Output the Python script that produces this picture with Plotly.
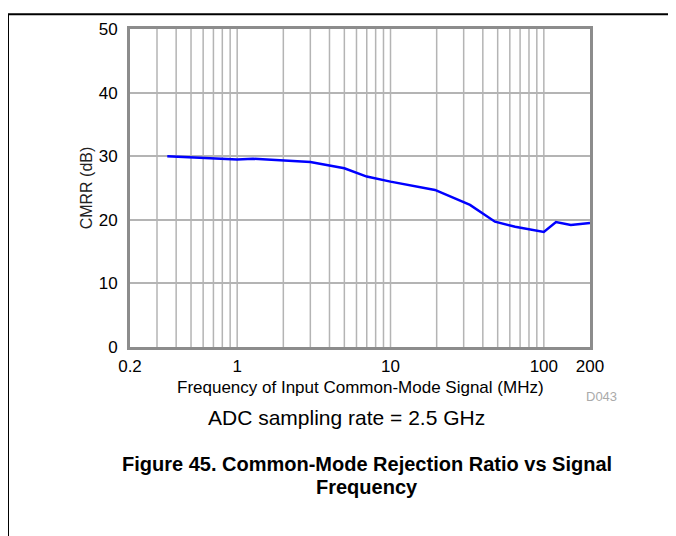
import plotly.graph_objects as go

# CMRR vs input common-mode signal frequency
freq_mhz = [0.35, 1.0, 1.27, 3.0, 5.0, 7.0, 10.0, 19.5, 33.0, 48.0, 65.0, 100.0, 120.0, 150.0, 200.0]
cmrr_db = [30.0, 29.5, 29.6, 29.1, 28.1, 26.8, 26.0, 24.7, 22.35, 19.7, 18.9, 18.1, 19.65, 19.2, 19.5]

x_tickvals = [0.2, 1, 10, 100, 200]
x_ticktext = ["0.2", "1", "10", "100", "200"]
y_tickvals = [0, 10, 20, 30, 40, 50]

grid_vals = [m * 10 ** e for e in (-1, 0, 1) for m in range(1, 10)]
grid_vals = [g for g in grid_vals if 0.2 < g < 200] + [100]

font_family = "Liberation Sans, Arial, sans-serif"

# plot area size in px (used to place page text relative to it)
PW, PH = 460, 325

fig = go.Figure()

# log grid lines drawn as vertical shapes
for g in sorted(set(grid_vals)):
    fig.add_shape(type="line", xref="x", yref="paper", x0=g, x1=g, y0=0, y1=1,
                  line=dict(color="#b4b4b4", width=1.5), layer="below")

fig.add_trace(go.Scatter(
    x=freq_mhz, y=cmrr_db, mode="lines",
    line=dict(color="#0000ff", width=2.5),
    showlegend=False, hoverinfo="x+y"
))

fig.update_layout(
    width=676, height=536,
    margin=dict(l=122, r=94, t=14, b=197),
    paper_bgcolor="white", plot_bgcolor="white",
    font=dict(family=font_family, size=17, color="black"),
    xaxis=dict(
        type="log", range=[-0.69897, 2.30103],
        tickvals=x_tickvals, ticktext=x_ticktext,
        showgrid=False, zeroline=False,
        showline=True, mirror=True, linecolor="#8c8c8c", linewidth=3,
        ticks="", tickfont=dict(size=17), ticklabelstandoff=2,
    ),
    yaxis=dict(
        range=[0, 50], tickvals=y_tickvals,
        showgrid=True, gridcolor="#b4b4b4", gridwidth=1.5,
        zeroline=False,
        showline=True, mirror=True, linecolor="#8c8c8c", linewidth=3,
        ticks="", tickfont=dict(size=17), ticklabelstandoff=6,
        title=dict(text="CMRR (dB)", font=dict(size=16, color="#222"), standoff=3),
    ),
)

# page frame lines (top and left)
fig.add_shape(type="line", xref="paper", yref="paper", x0=-130 / PW, x1=1 + 90 / PW,
              y0=1 + 15 / PH, y1=1 + 15 / PH, line=dict(color="black", width=2))
fig.add_shape(type="line", xref="paper", yref="paper", x0=-122 / PW, x1=-122 / PW,
              y0=1 + 15 / PH, y1=-200 / PH, line=dict(color="black", width=2))

fig.add_annotation(text="Frequency of Input Common-Mode Signal (MHz)", xref="paper", yref="paper",
                   x=0.5, y=-41 / PH, xanchor="center", yanchor="middle", showarrow=False,
                   font=dict(size=17, color="black"))
fig.add_annotation(text="D043", xref="paper", yref="paper",
                   x=1 + 11 / PW, y=-51 / PH, xanchor="center", yanchor="middle", showarrow=False,
                   font=dict(size=13, color="#aaaaaa"))
fig.add_annotation(text="ADC sampling rate = 2.5 GHz", xref="paper", yref="paper",
                   x=(346 - 130) / PW, y=-72 / PH, xanchor="center", yanchor="middle", showarrow=False,
                   font=dict(size=21, color="black"))
fig.add_annotation(text="<b>Figure 45. Common-Mode Rejection Ratio vs Signal</b>",
                   xref="paper", yref="paper",
                   x=(367 - 130) / PW, y=-120 / PH, xanchor="center", yanchor="middle", showarrow=False,
                   font=dict(size=20, color="black"))
fig.add_annotation(text="<b>Frequency</b>",
                   xref="paper", yref="paper",
                   x=(367 - 130) / PW, y=-143 / PH, xanchor="center", yanchor="middle", showarrow=False,
                   font=dict(size=20, color="black"))

fig.write_html("out.html")
